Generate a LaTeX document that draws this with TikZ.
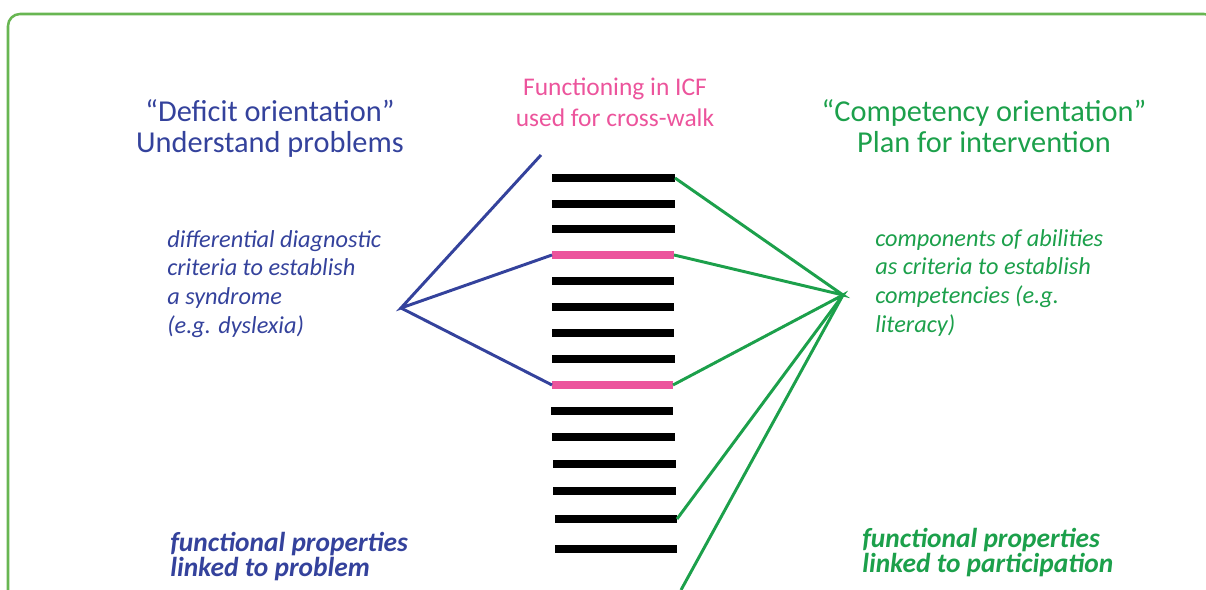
\documentclass[tikz,border=0pt]{standalone}
\usepackage{fontspec}
\setmainfont{Carlito}
\definecolor{deficit}{RGB}{52,66,156}
\definecolor{compet}{RGB}{28,160,75}
\definecolor{icfpink}{RGB}{236,84,156}
\definecolor{frame}{RGB}{104,182,82}
\tikzset{
	bar/.style={line width=5pt},
	link/.style={line width=2.1pt},
	label/.style={inner sep=0pt, align=left, anchor=north west},
	head/.style={inner sep=0pt, align=center, anchor=north, font=\fontsize{21.6}{22}\selectfont},
}
\begin{document}
\setlength{\lineskiplimit}{-20pt}
\begin{tikzpicture}[x=0.025cm, y=-0.025cm]
	\useasboundingbox (0,0) rectangle (1206,590);
	\begin{scope}
	\clip (0,0) rectangle (1206,590);
	\draw[frame, line width=1.8pt, rounded corners=0.3cm] (8,14) rectangle (1216,640);
	\end{scope}
	% ICF list of functions
	\foreach \y/\xl/\xr/\c [count=\i] in {178/552/675/black, 204/552/675/black, 229/552/675/black,
		255/552/674/icfpink, 281/552/674/black, 307/552/674/black, 333/552/674/black, 359/552/675/black,
		385/552/673/icfpink, 411/551/673/black, 437/552/675/black, 464/553/676/black, 491/553/676/black,
		519/555/677/black, 549/555/677/black}
	{
		\coordinate (l\i) at (\xl,\y);
		\coordinate (r\i) at (\xr,\y);
		\draw[bar, \c] (l\i) -- (r\i);
	}
	\coordinate (deficithub) at (401,308);
	\coordinate (deficitend) at (541,155);
	\coordinate (compethub) at (843,295);
	\coordinate (competend) at (681,590);
	\draw[link, deficit] (deficitend) -- (deficithub) -- (l4);
	\draw[link, deficit] (deficithub) -- (l9);
	\draw[link, compet] (r1) -- (compethub) -- (r4);
	\draw[link, compet] (r9) -- (compethub) -- (r14);
	\draw[link, compet] (compethub) -- (competend);
	% texts
	\node[head, deficit] (deficit) at (270,99) {“Deficit orientation”\\Understand problems};
	\node[head, compet] (competency) at (984,99) {“Competency orientation”\\Plan for intervention};
	\node[head, icfpink, font=\fontsize{18.1}{21.7}\selectfont] (icf) at (615,78) {Functioning in ICF\\used for cross-walk};
	\node[label, deficit, font=\fontsize{17.3}{20.4}\selectfont\itshape] (diagnostic) at (167,230)
		{differential diagnostic\\criteria to establish\\a syndrome\\(e.g. dyslexia)};
	\node[label, compet, font=\fontsize{17.3}{20.4}\selectfont\itshape] (abilities) at (875,229)
		{components of abilities\\as criteria to establish\\competencies (e.g.\\literacy)};
	\node[label, deficit, font=\fontsize{19.5}{17.8}\selectfont\bfseries\itshape] (problem) at (170,532)
		{functional properties\\linked to problem};
	\node[label, compet, font=\fontsize{19.5}{17.8}\selectfont\bfseries\itshape] (participation) at (862,528)
		{functional properties\\linked to participation};
\end{tikzpicture}
\end{document}
